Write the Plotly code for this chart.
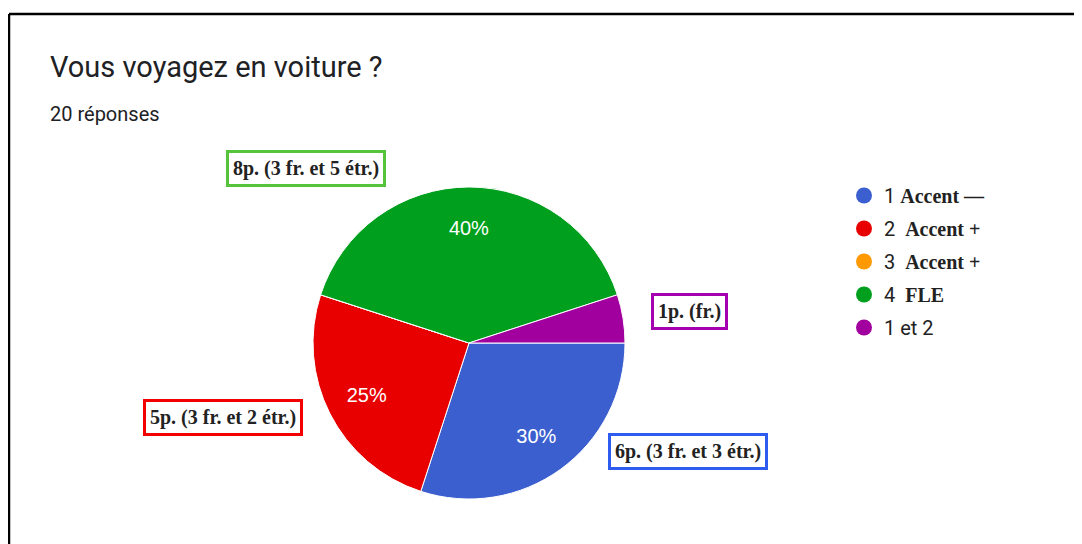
import plotly.graph_objects as go

categories = ["1 Accent —", "2  Accent +", "3  Accent +", "4  FLE", "1 et 2"]
legend_num = ["1", "2 ", "3 ", "4 ", "1 et 2"]
legend_bold = ["Accent —", "Accent +", "Accent +", "FLE", ""]
values = [6, 5, 0, 8, 1]
colors = ["#3b5fcf", "#e80000", "#ff9900", "#00a01e", "#a1009f"]
box_colors = ["#2f5cf0", "#f20000", "#ff9900", "#55c43a", "#a400b0"]
callouts = ["6p. (3 fr. et 3 étr.)", "5p. (3 fr. et 2 étr.)", "", "8p. (3 fr. et 5 étr.)", "1p. (fr.)"]
callout_pos = [(688, 451), (223, 417), None, (306, 169), (689, 311)]
show_pct = [True, True, False, True, False]

W, H = 1082, 544
OFF = 8  # page body margin
def px(x):
    return (x - OFF) / W
def py(y):
    return 1 - (y - OFF) / H

dom = dict(x=[px(313), px(625)], y=[py(499), py(187)])

fig = go.Figure()
fig.add_trace(go.Pie(
    labels=categories, values=values, sort=False, direction="clockwise", rotation=90,
    marker=dict(colors=colors, line=dict(color="white", width=1)),
    textinfo="none", domain=dom, showlegend=False,
    hoverinfo="label+value+percent",
))
fig.add_trace(go.Pie(
    labels=categories, values=values, sort=False, direction="clockwise", rotation=90,
    hole=0.47,
    marker=dict(colors=["rgba(0,0,0,0)"] * len(values), line=dict(width=0)),
    texttemplate=["%{percent:.0%}" if s else "" for s in show_pct],
    textposition="inside", insidetextorientation="horizontal",
    textfont=dict(family="Arial, Liberation Sans", size=20, color="white"),
    domain=dom, showlegend=False, hoverinfo="skip",
))

serif = "Liberation Serif"
for i, (num, bold, col) in enumerate(zip(legend_num, legend_bold, colors)):
    name = num
    if bold:
        name = num + ' <span style="font-family:' + serif + '"><b>' + bold + '</b></span>'
    fig.add_trace(go.Scatter(x=[None], y=[None], mode="markers", name=name,
                             legendgroup="g%d" % i,
                             marker=dict(color=col, size=19, symbol="circle")))

for txt, pos, col in zip(callouts, callout_pos, box_colors):
    if not txt:
        continue
    fig.add_annotation(x=px(pos[0]), y=py(pos[1]), xref="paper", yref="paper",
                       text="<b>" + txt + "</b>", showarrow=False,
                       font=dict(family=serif, size=20, color="#222222"),
                       bordercolor=col, borderwidth=3, borderpad=4,
                       bgcolor="white", xanchor="center", yanchor="middle")

fig.add_annotation(x=px(48), y=py(114), xref="paper", yref="paper", text="20 réponses",
                   showarrow=False, xanchor="left", yanchor="middle",
                   font=dict(family="Roboto", size=20, color="#202124"))

fig.add_shape(type="line", xref="paper", yref="paper", x0=px(9), x1=1, y0=py(14), y1=py(14),
              line=dict(color="black", width=2.5))
fig.add_shape(type="line", xref="paper", yref="paper", x0=px(9), x1=px(9), y0=py(14), y1=0,
              line=dict(color="black", width=2.5))

fig.update_layout(
    width=W, height=H, margin=dict(l=0, r=0, t=0, b=0),
    paper_bgcolor="white", plot_bgcolor="white",
    title=dict(text="Vous voyagez en voiture ?", x=px(50), xanchor="left", y=py(67), yanchor="middle",
               font=dict(family="Roboto", size=29, color="#202124")),
    xaxis=dict(visible=False), yaxis=dict(visible=False),
    legend=dict(x=px(844), y=py(176), xanchor="left", yanchor="top",
                font=dict(family="Roboto", size=20, color="#222222"),
                bgcolor="rgba(0,0,0,0)", tracegroupgap=4),
)

fig.write_html("out.html")
